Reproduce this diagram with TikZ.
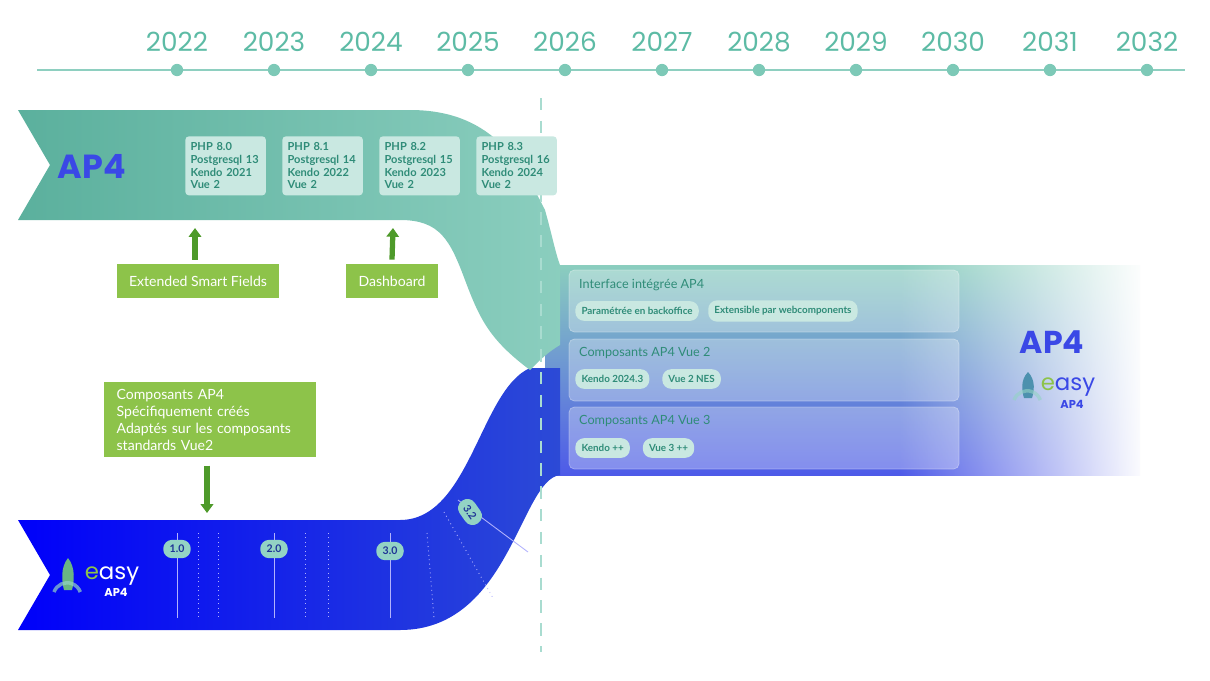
\documentclass[tikz,border=0pt]{standalone}
\usepackage{fontspec}
\setmainfont{Lato}
\newfontfamily\logofont{Poppins}
\usetikzlibrary{fadings,arrows.meta}
\definecolor{tealA}{HTML}{5BB09D}
\definecolor{tealB}{HTML}{93D3C4}
\definecolor{tealTxt}{HTML}{2F8C78}
\definecolor{yearC}{HTML}{5DBBA5}
\definecolor{boxC}{HTML}{C9E8E1}
\definecolor{blueA}{HTML}{0000FA}
\definecolor{blueB}{HTML}{2C4AD6}
\definecolor{apBlue}{HTML}{3A48E6}
\definecolor{greenC}{HTML}{8DC34A}
\definecolor{greenD}{HTML}{4E9A2A}
\tikzset{
  year/.style={font=\logofont\fontsize{15}{15}\selectfont, text=yearC},
  tick/.style={circle, fill=yearC!80, inner sep=0pt, minimum size=7pt},
  relbox/.style={rounded corners=2pt, fill=boxC, text=tealTxt, align=left, anchor=north west,
    font=\bfseries\fontsize{6.3}{7.2}\selectfont, inner sep=3pt, minimum width=1.52cm, minimum height=1.18cm, text width=1.4cm},
  featbox/.style={fill=greenC, text=white, font=\fontsize{8}{9.6}\selectfont, inner xsep=7pt, inner ysep=4pt, minimum height=0.68cm},
  greenarrow/.style={-{Triangle[width=7pt,length=5pt]}, line width=3pt, greenD},
  panel/.style={rounded corners=3pt, fill=white, fill opacity=0.3, draw=white, draw opacity=0.35},
  ptitle/.style={text=tealTxt, font=\fontsize{7.2}{8}\selectfont, anchor=west, text opacity=1},
  pill/.style={rounded corners=5pt, fill=boxC, text=tealTxt, font=\bfseries\fontsize{5.6}{6}\selectfont, inner sep=3.5pt, anchor=west},
  vers/.style={rounded corners=5pt, fill=tealB, text=blueB!70!black, font=\bfseries\fontsize{6}{6}\selectfont, inner sep=3pt, minimum width=0.55cm},
  vline/.style={white!70!blueA, line width=0.5pt},
  dline/.style={white!70!blueA, line width=0.5pt, dotted}
}
\begin{document}
\begin{tikzpicture}[x=0.02cm, y=-0.02cm]
  \useasboundingbox (0,0) rectangle (1210,680);

  % timeline
  \draw[yearC!70, line width=1.5pt] (37,70) -- (1185,70);
  \foreach \yr [count=\i from 0] in {2022,...,2032} {
    \node[tick] (t\yr) at (177+97*\i,70) {};
    \node[year] (y\yr) at (177+97*\i,42) {\yr};
  }

  % right band
  \shade[top color=tealB!85!tealA, bottom color=apBlue!90] (545,265) rectangle (1140,475);
  \fill[white, path fading=west] (900,255) rectangle (1145,485);

  % bottom band
  \shade[left color=blueA, right color=blueB] (18,520) -- (400,520)
    .. controls (470,520) and (480,390) .. (530,368) -- (560,368) -- (560,475)
    .. controls (520,480) and (510,630) .. (400,630) -- (18,630) -- (50,575) -- cycle;

  % top band
  \shade[left color=tealA, right color=tealB!85!tealA] (18,110) -- (410,110)
    .. controls (490,110) and (520,160) .. (545,210) .. controls (552,235) and (556,255) .. (560,265)
    -- (560,345) .. controls (548,352) and (540,360) .. (530,370) .. controls (490,340) and (480,320) .. (465,280)
    .. controls (450,240) and (440,220) .. (400,220) -- (18,220) -- (50,165) -- cycle;

  \draw[tealB!80, line width=1.5pt, dash pattern=on 7pt off 6pt] (541,98) -- (541,652);

  \node[text=apBlue, font=\logofont\bfseries\fontsize{19}{19}\selectfont] (ap4top) at (92,166) {AP4};
  \foreach \php/\pg/\ke [count=\i from 0] in {8.0/13/2021, 8.1/14/2022, 8.2/15/2023, 8.3/16/2024}
    \node[relbox] (rel\i) at (185+97*\i,136) {PHP \php\\Postgresql \pg\\Kendo \ke\\Vue 2};

  % features
  \node[featbox] (smart) at (198,281) {Extended Smart Fields};
  \node[featbox] (dash) at (392,281) {Dashboard};
  \draw[greenarrow] (smart.north -| 195,0) ++(0,-4) -- (195,228);
  \draw[greenarrow] (dash.north) ++(0,-4) -- (393,228);
  \node[featbox, align=left, anchor=north west, text width=3.75cm] (comp) at (104,382)
    {Composants AP4\\Spécifiquement créés\\Adaptés sur les composants\\standards Vue2};
  \coordinate (compend) at (207,513);
  \draw[greenarrow] (comp.south -| compend) ++(0,8) -- (compend);

  % right panels
  \foreach \y in {270,339,407} \draw[panel] (569,\y) rectangle (959,\y+62);
  \node[ptitle] (pt1) at (573,285) {Interface intégrée AP4};
  \node[pill] (p11) at (575,311) {Paramétrée en backoffice};
  \node[pill] (p12) at (p11.east) [xshift=5pt] {Extensible par webcomponents};
  \node[ptitle] (pt2) at (573,353) {Composants AP4 Vue 2};
  \node[pill] (p21) at (575,379) {Kendo 2024.3};
  \node[pill] (p22) at (p21.east) [xshift=7pt] {Vue 2 NES};
  \node[ptitle] (pt3) at (573,421) {Composants AP4 Vue 3};
  \node[pill] (p31) at (575,448) {Kendo ++};
  \node[pill] (p32) at (p31.east) [xshift=7pt] {Vue 3 ++};

  % right logo
  \node[text=apBlue, font=\logofont\bfseries\fontsize{18}{18}\selectfont] (ap4right) at (1052,342) {AP4};
  \node[font=\logofont\fontsize{13}{13}\selectfont] (easyR) at (1068,387) {\textcolor{greenC}{e}\textcolor{apBlue}{asy}};
  \node[text=apBlue, font=\logofont\bfseries\fontsize{6.5}{6.5}\selectfont] (apR) at (1072,404) {AP4};
  \fill[tealA!70!blueB] (1028,372) .. controls (1020,380) and (1022,392) .. (1024,398)
    -- (1032,398) .. controls (1034,392) and (1036,380) .. (1028,372) -- cycle;
  \draw[tealB, line width=2pt, opacity=0.6] (1014,400) arc (200:340:14);

  % bottom versions
  \foreach \x in {177,274,390} \draw[vline] (\x,533) -- (\x,618);
  \foreach \x in {198,218,305,328} \draw[dline] (\x,533) -- (\x,618);
  \draw[dline] (427,533) -- (434,618);
  \draw[dline] (444,512) -- (493,598);
  \draw[vline] (458,500) -- (528,552);
  \node[vers] (v10) at (177,549) {1.0};
  \node[vers] (v20) at (274,549) {2.0};
  \node[vers] (v30) at (390,551) {3.0};
  \node[vers, rotate=-55] (v32) at (470,512) {3.2};

  % bottom logo
  \node[font=\logofont\fontsize{13}{13}\selectfont] (easyL) at (112,576) {\textcolor{greenC}{e}\textcolor{white}{asy}};
  \node[text=white, font=\logofont\bfseries\fontsize{6.5}{6.5}\selectfont] (apL) at (116,592) {AP4};
  \fill[tealA!70!greenC] (68,558) .. controls (60,568) and (62,582) .. (64,590)
    -- (72,590) .. controls (74,582) and (76,568) .. (68,558) -- cycle;
  \draw[tealB, line width=2pt, opacity=0.7] (54,592) arc (200:340:14);
\end{tikzpicture}
\end{document}
